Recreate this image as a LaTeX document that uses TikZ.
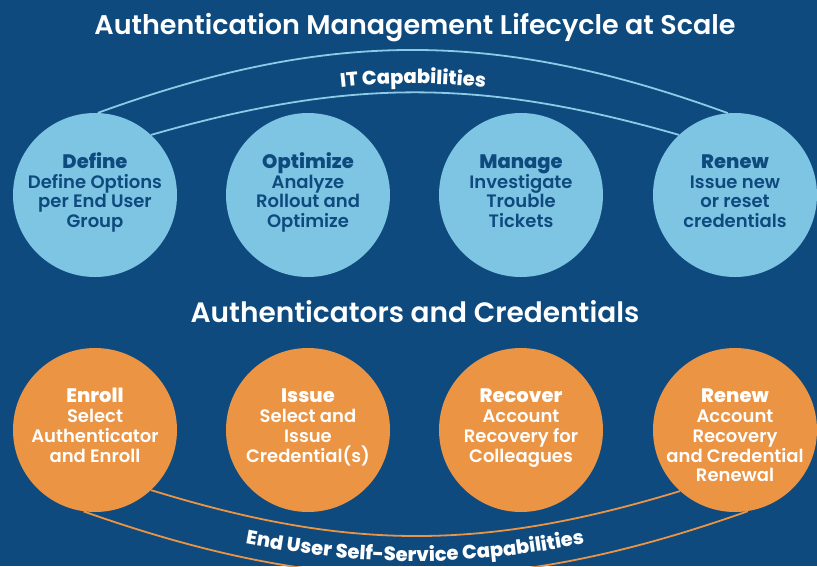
\documentclass[tikz,border=0pt]{standalone}
\usepackage{fontspec}
\setmainfont{Poppins}
\newfontfamily\popsemi{Poppins SemiBold}
\newfontfamily\popxbold{Poppins ExtraBold}
\usetikzlibrary{decorations.text}

\definecolor{bgblue}{HTML}{0E4A7E}
\definecolor{skyblue}{HTML}{7EC4E3}
\definecolor{arcblue}{HTML}{8CCBE8}
\definecolor{lifeorange}{HTML}{EB9443}
\definecolor{navytext}{HTML}{0E4A7E}

\newcommand{\stagehead}[1]{{\popxbold\fontsize{19.5}{19.7}\selectfont #1}}

\begin{document}
\begin{tikzpicture}[x=1pt, y=-1pt]

    % Styles
    \tikzstyle{itcircle} = [circle, fill=skyblue, minimum size=164pt, inner sep=0pt]
    \tikzstyle{usercircle} = [circle, fill=lifeorange, minimum size=164pt, inner sep=0pt]
    \tikzstyle{ittext} = [anchor=base, align=center, text=navytext, font=\popsemi\fontsize{18}{19.7}\selectfont]
    \tikzstyle{usertext} = [anchor=base, align=center, text=white, font=\popsemi\fontsize{18}{19.7}\selectfont]
    \tikzstyle{heading} = [anchor=base, text=white, font=\popsemi\fontsize{27}{30}\selectfont]
    \tikzstyle{itarc} = [draw=arcblue, line width=1.8pt]
    \tikzstyle{userarc} = [draw=lifeorange, line width=1.8pt]

    % Background
    \useasboundingbox (0,0) rectangle (817,566);
    \fill[bgblue] (0,0) rectangle (817,566);

    % Headings
    \node[heading] (title) at (415,34) {Authentication Management Lifecycle at Scale};
    \node[heading, font=\popsemi\fontsize{28}{30}\selectfont] (subtitle) at (415,322) {Authenticators and Credentials};

    % IT Capabilities (base = last line)
    \node[itcircle] (def) at (95,195) {};
    \node[itcircle] (opt) at (308,195) {};
    \node[itcircle] (mng) at (521,195) {};
    \node[itcircle] (rnw) at (735,195) {};

    \node[ittext] (defT) at (95,227.5) {\stagehead{Define}\\Define Options\\per End User\\Group};
    \node[ittext] (optT) at (308,227.5) {\stagehead{Optimize}\\Analyze\\Rollout and\\Optimize};
    \node[ittext] (mngT) at (521,227.5) {\stagehead{Manage}\\Investigate\\Trouble\\Tickets};
    \node[ittext] (rnwT) at (735,227.5) {\stagehead{Renew}\\Issue new\\or reset\\credentials};

    % End User Capabilities
    \node[usercircle] (enr) at (95,430) {};
    \node[usercircle] (iss) at (308,430) {};
    \node[usercircle] (rcv) at (521,430) {};
    \node[usercircle] (rnwb) at (735,430) {};

    \node[usertext] (enrT) at (95,462) {\stagehead{Enroll}\\Select\\Authenticator\\and Enroll};
    \node[usertext] (issT) at (308,462) {\stagehead{Issue}\\Select and\\Issue\\Credential(s)};
    \node[usertext] (rcvT) at (521,462) {\stagehead{Recover}\\Account\\Recovery for\\Colleagues};
    \node[usertext] (rnwbT) at (735,481.7) {\stagehead{Renew}\\Account\\Recovery\\and Credential\\Renewal};

    % Arcs
    \draw[itarc] (def.88) to[bend left=20] (rnw.95);
    \draw[itarc] (def.47) to[bend left=16] (rnw.133);
    \draw[userarc] (enr.-47) to[bend right=17] (rnwb.-132);
    \draw[userarc] (enr.-98) to[bend right=19.5] (rnwb.-81);

    % Curved labels
    \coordinate (itL) at (213,110);
    \coordinate (itR) at (613,110);
    \path[decorate, decoration={text along path, text align=center, text color=white,
        text={|\popxbold\fontsize{19.5}{19.5}\selectfont|IT Capabilities}}] (itL) to[bend left=13] (itR);

    \coordinate (euL) at (215,538);
    \coordinate (euR) at (615,538);
    \path[decorate, decoration={text along path, text align=center, text color=white,
        text={|\popxbold\fontsize{19.5}{19.5}\selectfont|End User Self-Service Capabilities}}] (euL) to[bend right=11.5] (euR);

\end{tikzpicture}
\end{document}
